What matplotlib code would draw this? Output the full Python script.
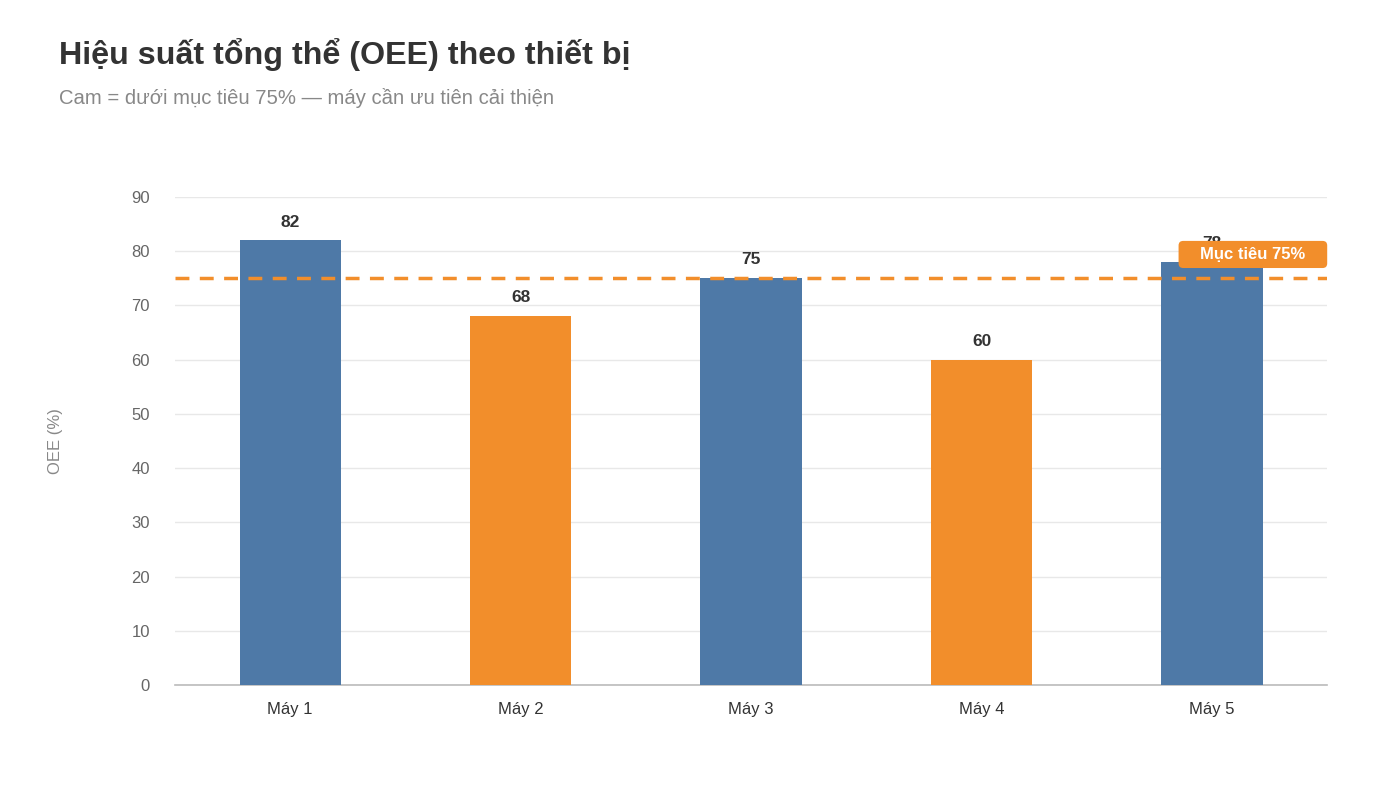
import matplotlib.pyplot as plt
import matplotlib.transforms as mtransforms
from matplotlib.patches import FancyBboxPatch

plt.rcParams['font.family'] = ['Liberation Sans', 'DejaVu Sans']

machines = ['Máy 1', 'Máy 2', 'Máy 3', 'Máy 4', 'Máy 5']
oee = [82, 68, 75, 60, 78]
target = 75

blue = '#4E79A7'
orange = '#F28E2B'
colors = [orange if v < target else blue for v in oee]

fig = plt.figure(figsize=(14, 7.87), dpi=100)
ax = fig.add_axes([0.125, 0.1296, 0.823, 0.6201])

x = range(len(machines))
bars = ax.bar(x, oee, width=0.44, color=colors, zorder=3)

for xi, v in zip(x, oee):
    ax.text(xi, v + 2, str(v), ha='center', va='bottom', fontsize=12.5,
            fontweight='bold', color='#333333', zorder=4)

ax.axhline(target, color=orange, lw=2.5, ls=(0, (4, 3)), zorder=5)

# target label box, right edge on the axes edge (covers the "78" label like the original)
trans = mtransforms.blended_transform_factory(ax.transAxes, ax.transData)
box = FancyBboxPatch((0.871, 76.9), 0.129, 5.0, transform=trans,
                     boxstyle='round,pad=0,rounding_size=0.004',
                     mutation_aspect=212, fc=orange, ec='none', zorder=6,
                     clip_on=False)
ax.add_patch(box)
ax.text(0.9355, 79.35, 'Mục tiêu 75%', transform=trans, ha='center', va='center',
        fontsize=12, fontweight='bold', color='white', zorder=7)

ax.set_xlim(-0.5, 4.5)
ax.set_ylim(0, 90)
ax.set_yticks(range(0, 91, 10))
ax.set_xticks(list(x))
ax.set_xticklabels(machines)
ax.tick_params(axis='both', length=0, labelsize=12, colors='#333333')
ax.tick_params(axis='y', colors='#666666', pad=18)
ax.tick_params(axis='x', pad=12)
ax.grid(axis='y', color='#e8e8e8', lw=1, zorder=0)
for s in ['top', 'right', 'left']:
    ax.spines[s].set_visible(False)
ax.spines['bottom'].set_color('#bbbbbb')
ax.spines['bottom'].set_linewidth(1.2)

ax.set_ylabel('OEE (%)', fontsize=12, color='#888888', labelpad=49)

fig.text(0.042, 0.931, 'Hiệu suất tổng thể (OEE) theo thiết bị', fontsize=23.2,
         fontweight='bold', color='#333333', ha='left', va='center')
fig.text(0.042, 0.875, 'Cam = dưới mục tiêu 75% — máy cần ưu tiên cải thiện',
         fontsize=14.6, color='#888888', ha='left', va='center')

fig.savefig('out.png', dpi=100)
